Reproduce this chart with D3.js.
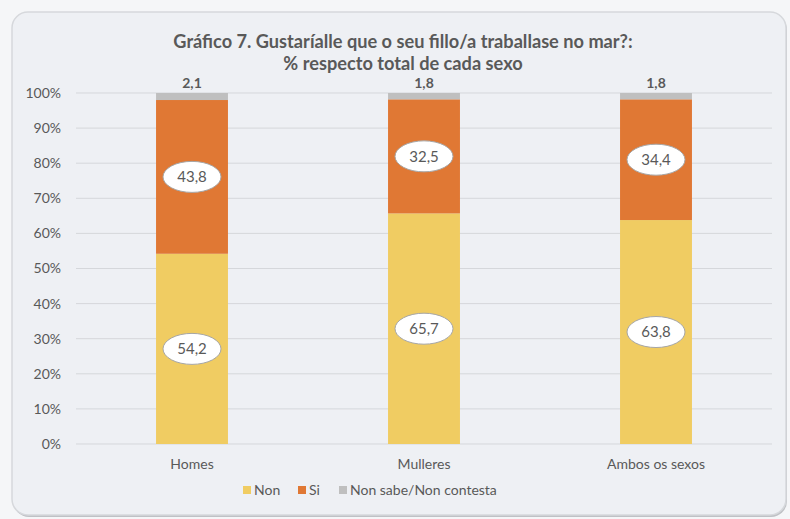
<!DOCTYPE html>
<html>
<head>
<meta charset="utf-8">
<script src="https://cdn.jsdelivr.net/npm/d3@7"></script>
<style>
  body { margin: 0; background: #f5f6f8; }
  svg { display: block; font-family: Lato, "Open Sans", sans-serif; }
</style>
</head>
<body>
<div id="chart"></div>
<script>
// data
const categories = ["Homes", "Mulleres", "Ambos os sexos"];
const seriesNames = ["Non", "Si", "Non sabe/Non contesta"];
const nonValues = [54.2, 65.7, 63.8];
const siValues = [43.8, 32.5, 34.4];
const nsValues = [2.1, 1.8, 1.8];
const yTicks = [0, 10, 20, 30, 40, 50, 60, 70, 80, 90, 100];
const titleLines = ["Gráfico 7. Gustaríalle que o seu fillo/a traballase no mar?:", "% respecto total de cada sexo"];

const colors = ["#f0cc62", "#e07834", "#bfbfbf"];
const textColor = "#595959";

const width = 790, height = 519;
const margin = {top: 93, right: 18, bottom: 75, left: 76};
const plotW = width - margin.left - margin.right;
const plotH = height - margin.top - margin.bottom;

const svg = d3.select("#chart").append("svg")
    .attr("width", width)
    .attr("height", height);

// card with a soft shadow
svg.append("rect")
    .attr("x", 13).attr("y", 14)
    .attr("width", 774).attr("height", 503)
    .attr("rx", 16)
    .style("fill", "#bfc1c5");
svg.append("rect")
    .attr("x", 12).attr("y", 12)
    .attr("width", 774).attr("height", 503)
    .attr("rx", 16)
    .style("fill", "#eef0f4")
    .style("stroke", "#d6d8dc")
    .style("stroke-width", 1.5);

// title
svg.append("g").selectAll("text")
    .data(titleLines)
    .enter()
    .append("text")
    .attr("x", 403)
    .attr("y", (d, i) => 48 + i * 22)
    .attr("text-anchor", "middle")
    .style("font-size", "18.2px")
    .style("font-weight", "bold")
    .style("fill", textColor)
    .text(d => d);

const g = svg.append("g")
    .attr("transform", "translate(" + margin.left + "," + margin.top + ")");

const x = d3.scaleBand()
    .domain(categories)
    .range([0, plotW])
    .paddingInner(0.69)
    .paddingOuter(0.345);

const y = d3.scaleLinear()
    .domain([0, 100])
    .range([plotH, 0]);

// gridlines
g.append("g")
    .selectAll("line")
    .data(yTicks)
    .enter()
    .append("line")
    .attr("x1", 0)
    .attr("x2", plotW)
    .attr("y1", d => y(d))
    .attr("y2", d => y(d))
    .style("stroke", "#d5d7db")
    .style("stroke-width", 1);

// y axis labels
const yAxis = d3.axisLeft(y)
    .tickValues(yTicks)
    .tickFormat(d => d + "%")
    .tickSize(0)
    .tickPadding(15);

g.append("g")
    .call(yAxis)
    .call(a => a.select(".domain").remove())
    .selectAll("text")
    .style("font-family", "Lato, 'Open Sans', sans-serif")
    .style("font-size", "14px")
    .style("fill", textColor);

// stacked bars
const rows = categories.map((c, i) => ({cat: c, Non: nonValues[i], Si: siValues[i], NS: nsValues[i]}));
const keys = ["Non", "Si", "NS"];
const stacked = d3.stack().keys(keys)(rows);

const layers = g.selectAll("g.layer")
    .data(stacked)
    .enter()
    .append("g")
    .attr("class", "layer")
    .style("fill", (d, i) => colors[i]);

layers.selectAll("rect")
    .data(d => d)
    .enter()
    .append("rect")
    .attr("x", d => x(d.data.cat))
    .attr("y", d => y(Math.min(d[1], 100)))
    .attr("width", x.bandwidth())
    .attr("height", d => y(d[0]) - y(Math.min(d[1], 100)));

// bubble labels for Non and Si
const fmt = v => String(v).replace(".", ",");
stacked.slice(0, 2).forEach(layer => {
    const lab = g.append("g").selectAll("g")
        .data(layer)
        .enter()
        .append("g")
        .attr("transform", d => "translate(" + (x(d.data.cat) + x.bandwidth() / 2) + "," + y((d[0] + d[1]) / 2) + ")");
    lab.append("ellipse")
        .attr("rx", 29)
        .attr("ry", 15.5)
        .style("fill", "#ffffff")
        .style("stroke", "#a6a6a6")
        .style("stroke-width", 1);
    lab.append("text")
        .attr("text-anchor", "middle")
        .attr("dy", "0.35em")
        .style("font-size", "15px")
        .style("fill", textColor)
        .text(d => fmt(d.data[layer.key]));
});

// top labels for Non sabe
g.append("g").selectAll("text")
    .data(stacked[2])
    .enter()
    .append("text")
    .attr("x", d => x(d.data.cat) + x.bandwidth() / 2)
    .attr("y", y(100) - 5)
    .attr("text-anchor", "middle")
    .style("font-size", "14px")
    .style("font-weight", "bold")
    .style("fill", textColor)
    .text(d => fmt(d.data.NS));

// x axis labels
g.append("g")
    .attr("transform", "translate(0," + plotH + ")")
    .call(d3.axisBottom(x).tickSize(0).tickPadding(15))
    .call(a => a.select(".domain").remove())
    .selectAll("text")
    .style("font-family", "Lato, 'Open Sans', sans-serif")
    .style("font-size", "14px")
    .style("fill", textColor);

// legend
const legendX = [243, 298, 339];
const legend = svg.append("g").selectAll("g")
    .data(seriesNames)
    .enter()
    .append("g")
    .attr("transform", (d, i) => "translate(" + legendX[i] + ",490)");
legend.append("rect")
    .attr("x", 0).attr("y", -4)
    .attr("width", 8).attr("height", 8)
    .style("fill", (d, i) => colors[i]);
legend.append("text")
    .attr("x", 11)
    .attr("dy", "0.35em")
    .style("font-size", "14px")
    .style("fill", textColor)
    .text(d => d);
</script>
</body>
</html>
